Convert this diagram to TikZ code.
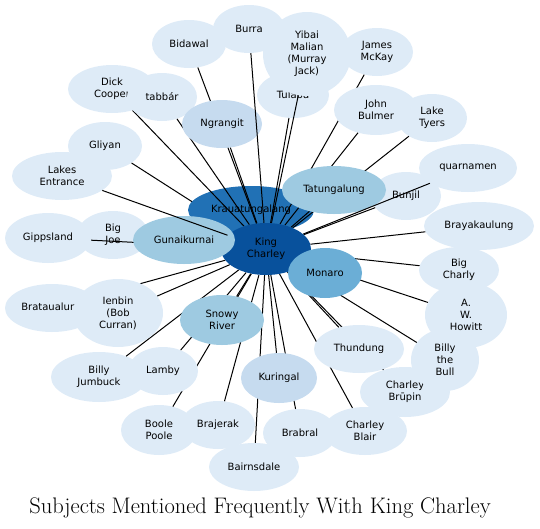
\documentclass[tikz,border=0pt]{standalone}
\usepackage{fontspec}
\setsansfont{DejaVu Sans}
\usepackage{tikz}
\usetikzlibrary{shapes.geometric}
\pgfdeclarelayer{front}
\pgfsetlayers{main,front}
\definecolor{paleblue}{HTML}{DEEBF7}
\definecolor{lightblue}{HTML}{C6DBEF}
\definecolor{midblue}{HTML}{9ECAE1}
\definecolor{brightblue}{HTML}{6BAED6}
\definecolor{deepblue}{HTML}{2171B5}
\definecolor{darkblue}{HTML}{08519C}

\begin{document}
\begin{tikzpicture}[x=1pt, y=1pt,
  subj/.style={ellipse, align=center, font=\sffamily\fontsize{10}{12}\selectfont},
  dims/.style 2 args={minimum width=#1pt, minimum height=#2pt},
  rare/.style={subj, fill=paleblue},
  seldom/.style={subj, fill=lightblue},
  often/.style={subj, fill=midblue},
  frequent/.style={subj, fill=brightblue},
  constant/.style={subj, fill=deepblue},
  hub/.style={subj, fill=darkblue},
  tie/.style={black, line width=1pt}]
\tikzstyle{every node}+=[inner sep=0pt]
\useasboundingbox (0,0) rectangle (540,-528);

\begin{pgfonlayer}{front}
\node [hub, dims={90}{52}] (kc) at (266,-249) {King\\Charley};
\end{pgfonlayer}

% each subject, then its tie to King Charley
\node [rare, dims={74}{48}] (gliyan) at (105,-146) {Gliyan};
\draw [tie] (kc) -- (gliyan);
\node [constant, dims={126}{48}] (kraua) at (251,-210) {Krauatungalang};
\draw [tie] (kc) -- (kraua);
\node [rare, dims={72}{48}] (bigjoe) at (113,-235) {Big\\Joe};
\draw [tie] (kc) -- (bigjoe);
\node [rare, dims={86}{50}] (gipps) at (48,-238) {Gippsland};
\draw [tie] (kc) -- (gipps);
\begin{pgfonlayer}{front}
\node [often, dims={102}{48}] (gunai) at (184,-240) {Gunaikurnai};
\end{pgfonlayer}
\draw [tie] (kc) -- (gunai);
\node [rare, dims={100}{48}] (lakes) at (62,-176) {Lakes\\Entrance};
\begin{pgfonlayer}{front}
\draw [tie] (kc) -- (lakes);
\end{pgfonlayer}
\node [rare, dims={88}{48}] (cooper) at (112,-89) {Dick\\Cooper};
\draw [tie] (kc) -- (cooper);
\node [rare, dims={70}{48}] (tabbar) at (162,-97) {tabbár};
\draw [tie] (kc) -- (tabbar);
\node [rare, dims={74}{48}] (bidawal) at (189,-44) {Bidawal};
\draw [tie] (kc) -- (bidawal);
\node [seldom, dims={80}{48}] (ngrangit) at (222,-124) {Ngrangit};
\draw [tie] (kc) -- (ngrangit);
\node [rare, dims={72}{48}] (burra) at (249,-29) {Burra};
\draw [tie] (kc) -- (burra);
\node [rare, dims={72}{46}] (tulaba) at (293,-95) {Tulaba};
\draw [tie] (kc) -- (tulaba);
\node [rare, dims={88}{84}] (yibai) at (307,-54) {Yibai\\Malian\\(Murray\\Jack)};
\draw [tie] (kc) -- (yibai);
\node [rare, dims={72}{48}] (mckay) at (377,-52) {James\\McKay};
\draw [tie] (kc) -- (mckay);
\node [rare, dims={84}{50}] (bulmer) at (376,-110) {John\\Bulmer};
\draw [tie] (kc) -- (bulmer);
\node [rare, dims={70}{48}] (tyers) at (432,-118) {Lake\\Tyers};
\draw [tie] (kc) -- (tyers);
\node [rare, dims={70}{48}] (bunjil) at (406,-196) {Bunjil};
\draw [tie] (kc) -- (bunjil);
\node [often, dims={104}{48}] (tatung) at (334,-190) {Tatungalung};
\draw [tie] (kc) -- (tatung);
\node [rare, dims={98}{48}] (quarn) at (468,-168) {quarnamen};
\draw [tie] (kc) -- (quarn);
\node [rare, dims={110}{48}] (braya) at (479,-226) {Brayakaulung};
\draw [tie] (kc) -- (braya);
\node [rare, dims={80}{46}] (charly) at (459,-270) {Big\\Charly};
\draw [tie] (kc) -- (charly);
\node [rare, dims={82}{66}] (howitt) at (466,-315) {A.\\W.\\Howitt};
\draw [tie] (kc) -- (howitt);
\node [rare, dims={90}{50}] (brupin) at (405,-392) {Charley\\Brūpin};
\draw [tie] (kc) -- (brupin);
\node [rare, dims={68}{62}] (bull) at (445,-360) {Billy\\the\\Bull};
\draw [tie] (kc) -- (bull);
\node [rare, dims={84}{48}] (blair) at (365,-431) {Charley\\Blair};
\draw [tie] (kc) -- (blair);
\node [rare, dims={90}{48}] (thundung) at (359,-349) {Thundung};
\draw [tie] (kc) -- (thundung);
\begin{pgfonlayer}{front}
\node [frequent, dims={74}{50}] (monaro) at (325,-273) {Monaro};
\end{pgfonlayer}
\draw [tie] (kc) -- (monaro);
\node [rare, dims={74}{48}] (brabral) at (300,-433) {Brabral};
\draw [tie] (kc) -- (brabral);
\node [rare, dims={90}{48}] (bairns) at (254,-467) {Bairnsdale};
\draw [tie] (kc) -- (bairns);
\node [seldom, dims={76}{50}] (kuringal) at (279,-378) {Kuringal};
\draw [tie] (kc) -- (kuringal);
\node [rare, dims={96}{50}] (jumbuck) at (99,-377) {Billy\\Jumbuck};
\draw [tie] (kc) -- (jumbuck);
\node [rare, dims={76}{50}] (boole) at (159,-430) {Boole\\Poole};
\draw [tie] (kc) -- (boole);
\node [rare, dims={74}{48}] (brajerak) at (218,-425) {Brajerak};
\draw [tie] (kc) -- (brajerak);
\node [rare, dims={70}{48}] (lamby) at (163,-371) {Lamby};
\draw [tie] (kc) -- (lamby);
\node [often, dims={84}{50}] (snowy) at (222,-320) {Snowy\\River};
\draw [tie] (kc) -- (snowy);
\node [rare, dims={94}{48}] (brata) at (52,-308) {Brataualung};
\draw [tie] (kc) -- (brata);
\node [rare, dims={90}{68}] (ienbin) at (118,-313) {Ienbin\\(Bob\\Curran)};
\draw [tie] (kc) -- (ienbin);

\node [anchor=base] (title) at (260,-513) {\fontsize{22.5}{26}\selectfont Subjects Mentioned Frequently With King Charley};
\end{tikzpicture}
\end{document}
